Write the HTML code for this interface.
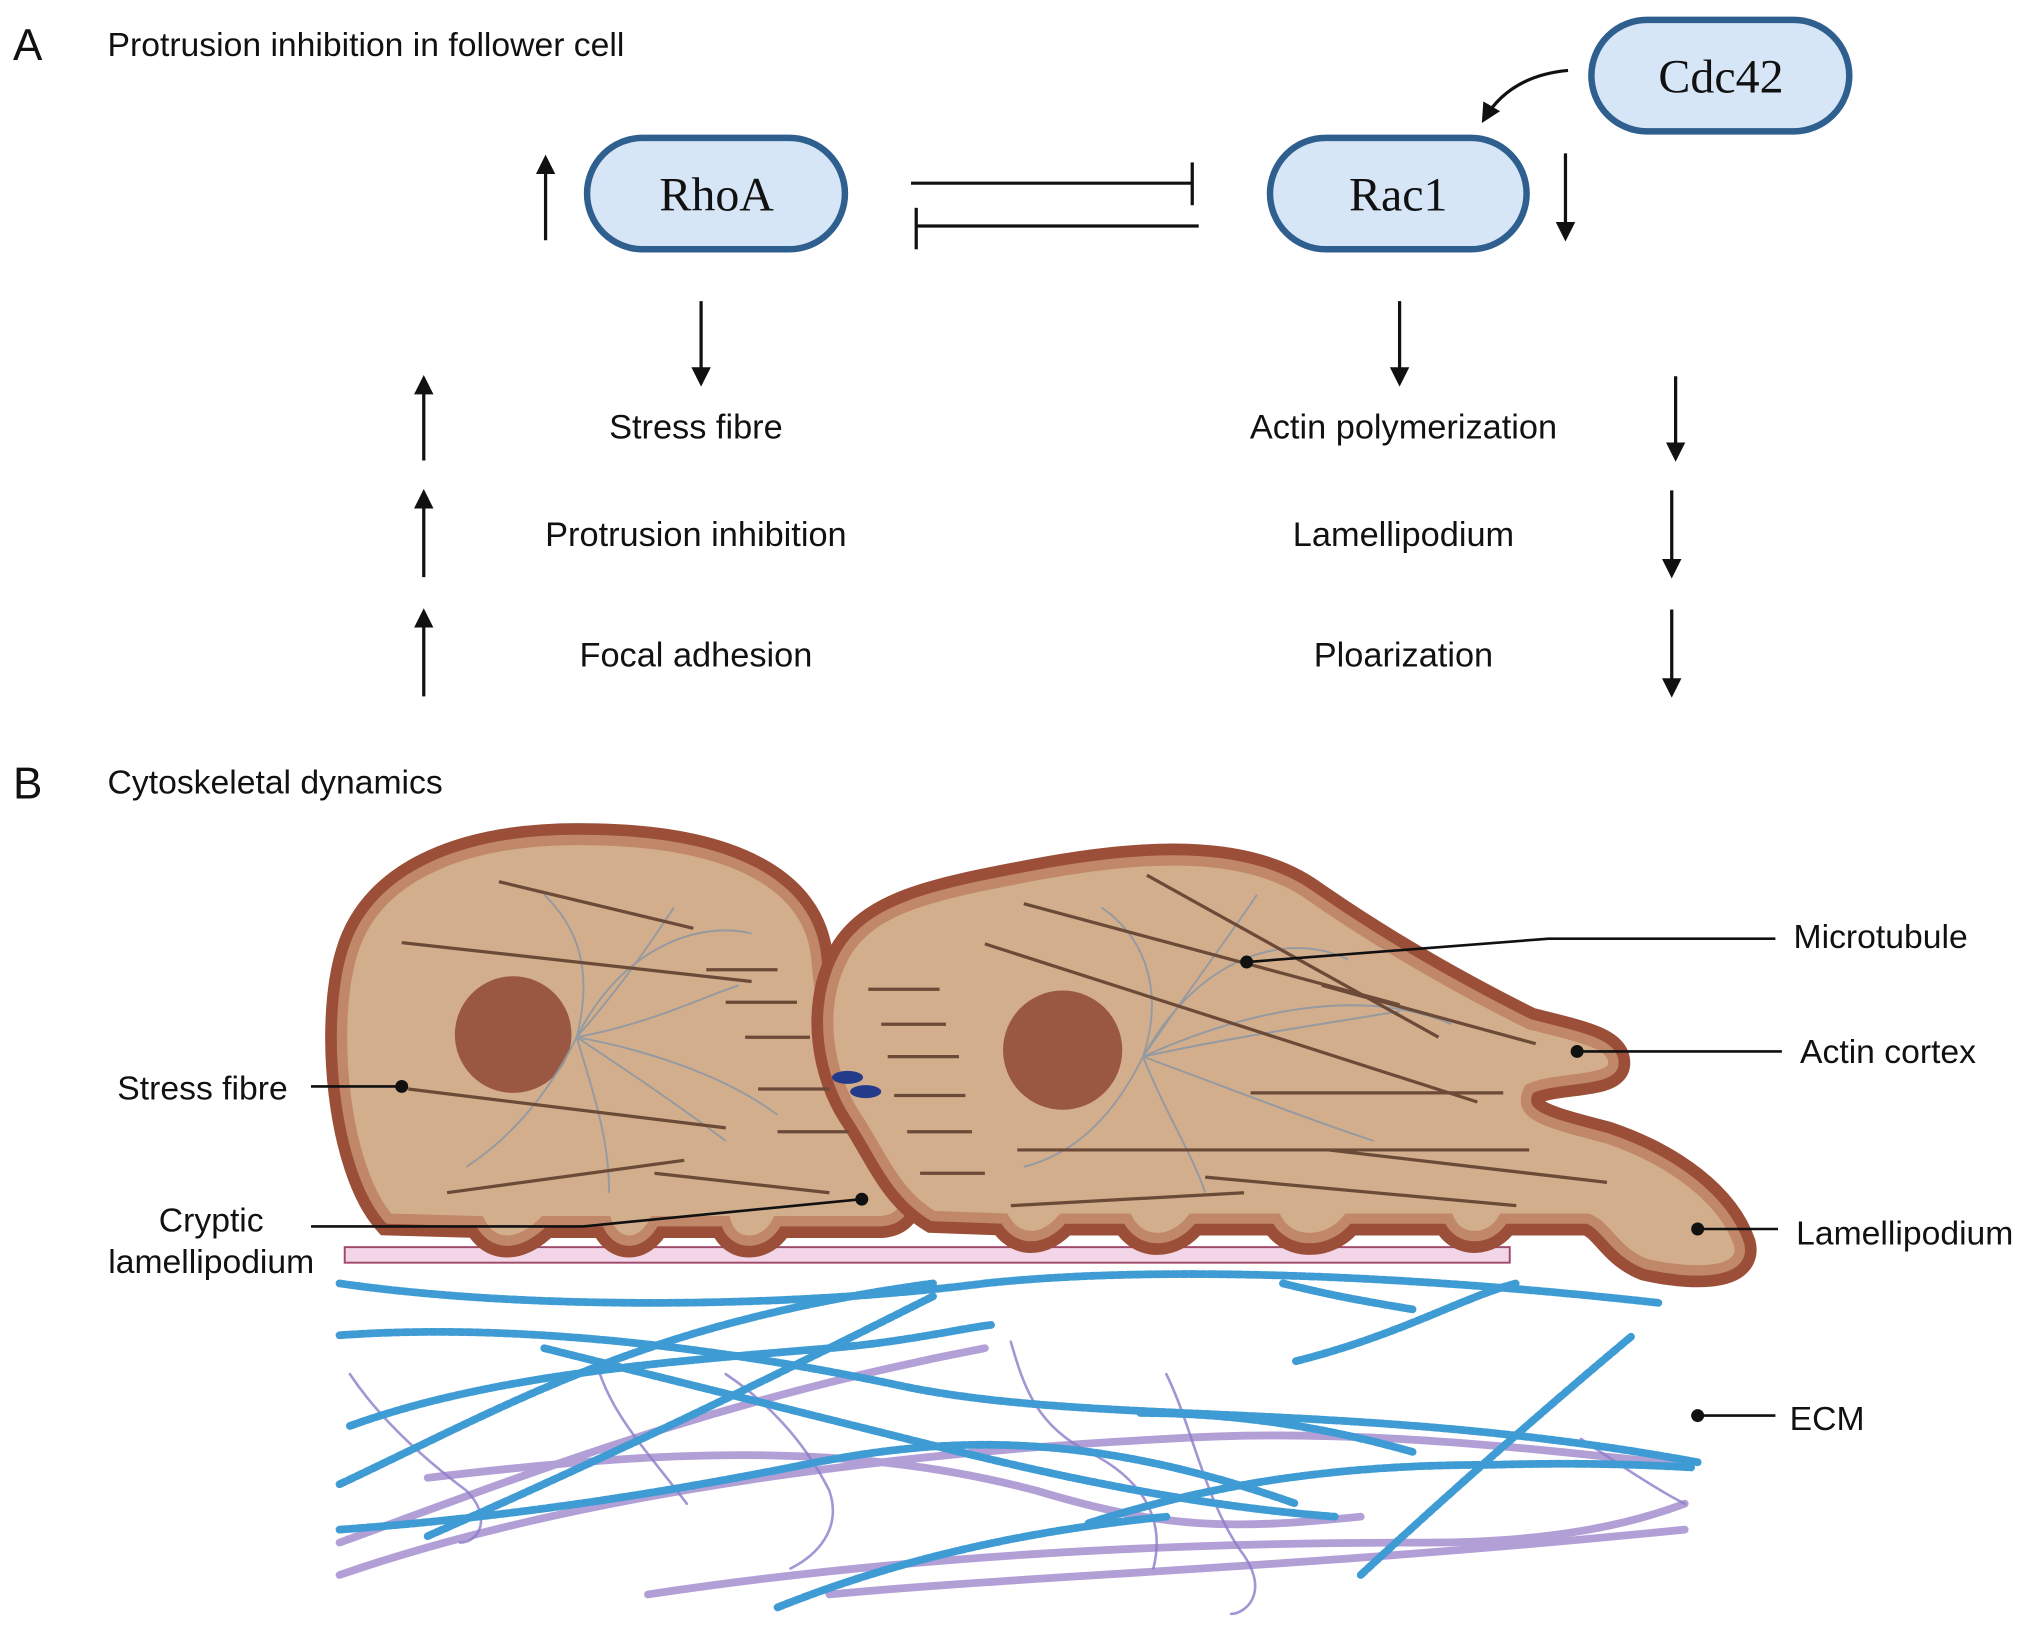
<!DOCTYPE html>
<html><head><meta charset="utf-8"><style>
html,body{margin:0;padding:0;background:#fff;width:2032px;height:1626px;overflow:hidden}
svg{display:block}
text{font-family:"Liberation Sans",sans-serif;fill:#111}
.s{font-family:"Liberation Serif",serif}
</style></head><body>
<svg width="2032" height="1626" viewBox="0 0 1568 1254" xmlns="http://www.w3.org/2000/svg">
<defs>
<marker id="ah" viewBox="0 0 10 10" refX="8" refY="5" markerWidth="6" markerHeight="6" orient="auto"><path d="M0,0 L10,5 L0,10 Z" fill="#111"/></marker>
<path id="lc" d="M300,940 C265,900 255,790 272,735 C290,675 360,645 460,648 C560,650 625,680 630,740 C635,800 650,840 680,880 C705,915 705,940 680,942 L600,942 C590,962 565,962 560,942 L505,942 C495,962 475,962 468,942 L420,942 C400,962 380,962 370,942 Z"/>
<path id="rc" d="M720,938 C690,920 680,890 660,860 C640,830 630,780 650,740 C670,700 720,690 800,675 C880,660 960,655 1010,690 C1060,725 1120,760 1180,790 C1220,800 1245,805 1245,820 C1245,835 1200,830 1180,840 C1170,860 1190,865 1240,878 C1290,895 1330,925 1342,960 C1348,985 1300,982 1270,975 C1245,965 1240,945 1225,940 L1160,940 C1150,958 1125,958 1118,940 L1040,940 C1025,960 995,960 985,940 L920,940 C905,960 880,960 870,940 L820,940 C805,958 785,958 775,940 Z"/>
</defs>
<text x="10" y="46" font-size="34">A</text>
<text x="83" y="43" font-size="26">Protrusion inhibition in follower cell</text>
<rect x="453" y="106" width="199" height="86" rx="43" fill="#d6e6f7" stroke="#2e5f8f" stroke-width="5"/>
<text x="553" y="162" font-size="37" text-anchor="middle" class="s">RhoA</text>
<rect x="980" y="106" width="198" height="86" rx="43" fill="#d6e6f7" stroke="#2e5f8f" stroke-width="5"/>
<text x="1079" y="162" font-size="37" text-anchor="middle" class="s">Rac1</text>
<rect x="1228" y="15" width="199" height="86" rx="43" fill="#d6e6f7" stroke="#2e5f8f" stroke-width="5"/>
<text x="1328" y="71" font-size="37" text-anchor="middle" class="s">Cdc42</text>
<g stroke="#111" stroke-width="2.5" fill="none">
<path d="M1210,54 Q1165,58 1145,92" marker-end="url(#ah)"/>
<line x1="421" y1="185" x2="421" y2="122" marker-end="url(#ah)"/>
<line x1="1208" y1="118" x2="1208" y2="183" marker-end="url(#ah)"/>
<line x1="703" y1="141" x2="920" y2="141"/><line x1="920" y1="125" x2="920" y2="158"/>
<line x1="925" y1="174" x2="707" y2="174"/><line x1="707" y1="160" x2="707" y2="192"/>
<line x1="541" y1="232" x2="541" y2="295" marker-end="url(#ah)"/>
<line x1="1080" y1="232" x2="1080" y2="295" marker-end="url(#ah)"/>
<line x1="327" y1="355" x2="327" y2="292" marker-end="url(#ah)"/>
<line x1="327" y1="445" x2="327" y2="380" marker-end="url(#ah)"/>
<line x1="327" y1="537" x2="327" y2="472" marker-end="url(#ah)"/>
<line x1="1293" y1="290" x2="1293" y2="353" marker-end="url(#ah)"/>
<line x1="1290" y1="378" x2="1290" y2="443" marker-end="url(#ah)"/>
<line x1="1290" y1="470" x2="1290" y2="535" marker-end="url(#ah)"/>
</g>
<g font-size="26.5" text-anchor="middle">
<text x="537" y="338">Stress fibre</text><text x="537" y="421">Protrusion inhibition</text><text x="537" y="514">Focal adhesion</text>
<text x="1083" y="338">Actin polymerization</text><text x="1083" y="421">Lamellipodium</text><text x="1083" y="514">Ploarization</text>
</g>
<text x="10" y="616" font-size="34">B</text>
<text x="83" y="612" font-size="26">Cytoskeletal dynamics</text>
<g fill="none" stroke-linecap="round">
<g stroke="#a48fd0" stroke-width="6" opacity="0.85">
<path d="M262,1215 C450,1150 700,1120 900,1110 C1050,1100 1200,1120 1300,1130"/>
<path d="M262,1190 C400,1140 550,1080 760,1040"/>
<path d="M500,1230 C700,1200 900,1190 1100,1190 C1200,1190 1260,1175 1300,1160"/>
<path d="M640,1230 C800,1215 1000,1210 1300,1180"/>
<path d="M330,1140 C500,1120 650,1110 800,1150 C900,1180 950,1180 1050,1170"/>
</g>
<g stroke="#8c7cc8" stroke-width="2" opacity="0.8">
<path d="M270,1060 C290,1090 320,1120 360,1150 C380,1170 370,1190 355,1190"/>
<path d="M780,1035 C790,1070 800,1100 840,1120 C880,1140 900,1170 890,1210"/>
<path d="M900,1060 C920,1100 930,1160 960,1200 C980,1230 960,1245 950,1245"/>
<path d="M560,1060 C590,1080 620,1110 640,1150 C650,1180 630,1200 610,1210"/>
<path d="M1220,1110 C1250,1130 1280,1150 1300,1160"/>
<path d="M460,1050 C470,1090 500,1120 530,1160"/>
</g>
<g stroke="#3f9bd3" stroke-width="6" stroke-dasharray="5 2">
<path d="M262,990 C400,1010 600,1010 760,990 C900,975 1100,985 1280,1005"/>
<path d="M262,1030 C400,1020 560,1040 700,1070 C850,1100 1050,1080 1310,1128"/>
<path d="M262,1145 C400,1080 500,1020 720,990"/>
<path d="M270,1100 C380,1060 520,1050 640,1040 C700,1035 740,1025 765,1022"/>
<path d="M262,1180 C400,1170 520,1150 620,1130 C720,1110 830,1100 1000,1160"/>
<path d="M330,1185 C500,1110 600,1060 720,1000"/>
<path d="M420,1040 C500,1060 580,1080 700,1110 C780,1130 900,1160 1030,1170"/>
<path d="M840,1175 C950,1140 1050,1130 1150,1130 C1220,1128 1270,1130 1305,1132"/>
<path d="M1050,1215 C1120,1150 1200,1080 1260,1030"/>
<path d="M1000,1050 C1080,1030 1130,1000 1170,990"/>
<path d="M600,1240 C700,1200 800,1180 900,1170"/>
<path d="M880,1090 C950,1090 1020,1100 1090,1120"/>
<path d="M990,990 C1030,1000 1060,1005 1090,1010"/>
</g>
</g>
<rect x="266" y="962" width="899" height="12" fill="#f2d6e8" stroke="#a04a6a" stroke-width="1.5"/>
<use href="#lc" fill="none" stroke="#9c4f38" stroke-width="26"/>
<use href="#lc" fill="#d3ae8c" stroke="#c08868" stroke-width="8"/>
<use href="#rc" fill="none" stroke="#9c4f38" stroke-width="26"/>
<use href="#rc" fill="#d3ae8c" stroke="#c08868" stroke-width="8"/>
<circle cx="396" cy="798" r="45" fill="#9a5741"/>
<circle cx="820" cy="810" r="46" fill="#9a5741"/>
<g stroke="#8f98a3" stroke-width="1.5" fill="none" opacity="0.9">
<path d="M445,800 C480,760 500,730 520,700"/><path d="M445,800 C460,740 440,710 420,690"/><path d="M445,800 C500,790 540,770 570,760"/><path d="M445,800 C490,830 520,850 560,880"/><path d="M445,800 C460,850 470,880 470,920"/><path d="M445,800 C420,850 390,880 360,900"/><path d="M445,800 C500,810 560,830 600,860"/><path d="M445,800 C480,730 540,710 580,720"/>
<path d="M882,815 C920,760 950,720 970,690"/><path d="M882,815 C900,760 880,720 850,700"/><path d="M882,815 C950,800 1020,790 1080,780"/><path d="M882,815 C950,840 1000,860 1060,880"/><path d="M882,815 C900,860 920,890 930,920"/><path d="M882,815 C860,860 830,890 790,900"/><path d="M882,815 C960,780 1050,760 1120,790"/><path d="M882,815 C930,730 1000,720 1040,740"/>
</g>
<g stroke="#6b4a38" stroke-width="2.5">
<line x1="385" y1="680" x2="535" y2="716"/><line x1="310" y1="727" x2="580" y2="757"/><line x1="315" y1="840" x2="560" y2="870"/><line x1="345" y1="920" x2="528" y2="895"/><line x1="505" y1="905" x2="640" y2="920"/>
<line x1="545" y1="748" x2="600" y2="748"/><line x1="560" y1="773" x2="615" y2="773"/><line x1="575" y1="800" x2="625" y2="800"/><line x1="585" y1="840" x2="640" y2="840"/><line x1="600" y1="873" x2="655" y2="873"/>
<line x1="670" y1="763" x2="725" y2="763"/><line x1="680" y1="790" x2="730" y2="790"/><line x1="685" y1="815" x2="740" y2="815"/><line x1="690" y1="845" x2="745" y2="845"/><line x1="700" y1="873" x2="750" y2="873"/><line x1="710" y1="905" x2="760" y2="905"/>
<line x1="885" y1="675" x2="1110" y2="800"/><line x1="760" y1="728" x2="1140" y2="850"/><line x1="790" y1="697" x2="1080" y2="775"/><line x1="965" y1="843" x2="1160" y2="843"/><line x1="785" y1="887" x2="1180" y2="887"/><line x1="1025" y1="887" x2="1240" y2="912"/><line x1="780" y1="930" x2="960" y2="920"/><line x1="930" y1="908" x2="1170" y2="930"/><line x1="1020" y1="760" x2="1185" y2="805"/>
</g>
<g fill="#243a8a"><ellipse cx="654" cy="831" rx="12" ry="5"/><ellipse cx="668" cy="842" rx="12" ry="5"/></g>
<g stroke="#111" stroke-width="2" fill="none">
<polyline points="962,742 1195,724 1370,724"/>
<line x1="1217" y1="811" x2="1375" y2="811"/>
<line x1="1310" y1="948" x2="1372" y2="948"/>
<line x1="1310" y1="1092" x2="1370" y2="1092"/>
<line x1="240" y1="838" x2="310" y2="838"/>
<polyline points="240,946 450,946 665,925"/>
</g>
<g fill="#111"><circle cx="962" cy="742" r="5"/><circle cx="1217" cy="811" r="5"/><circle cx="1310" cy="948" r="5"/><circle cx="1310" cy="1092" r="5"/><circle cx="310" cy="838" r="5"/><circle cx="665" cy="925" r="5"/></g>
<g font-size="26">
<text x="1384" y="731">Microtubule</text><text x="1389" y="820">Actin cortex</text><text x="1386" y="960">Lamellipodium</text><text x="1381" y="1103">ECM</text>
<text x="222" y="848" text-anchor="end">Stress fibre</text>
<text x="163" y="950" text-anchor="middle">Cryptic</text><text x="163" y="982" text-anchor="middle">lamellipodium</text>
</g>
</svg>
</body></html>
